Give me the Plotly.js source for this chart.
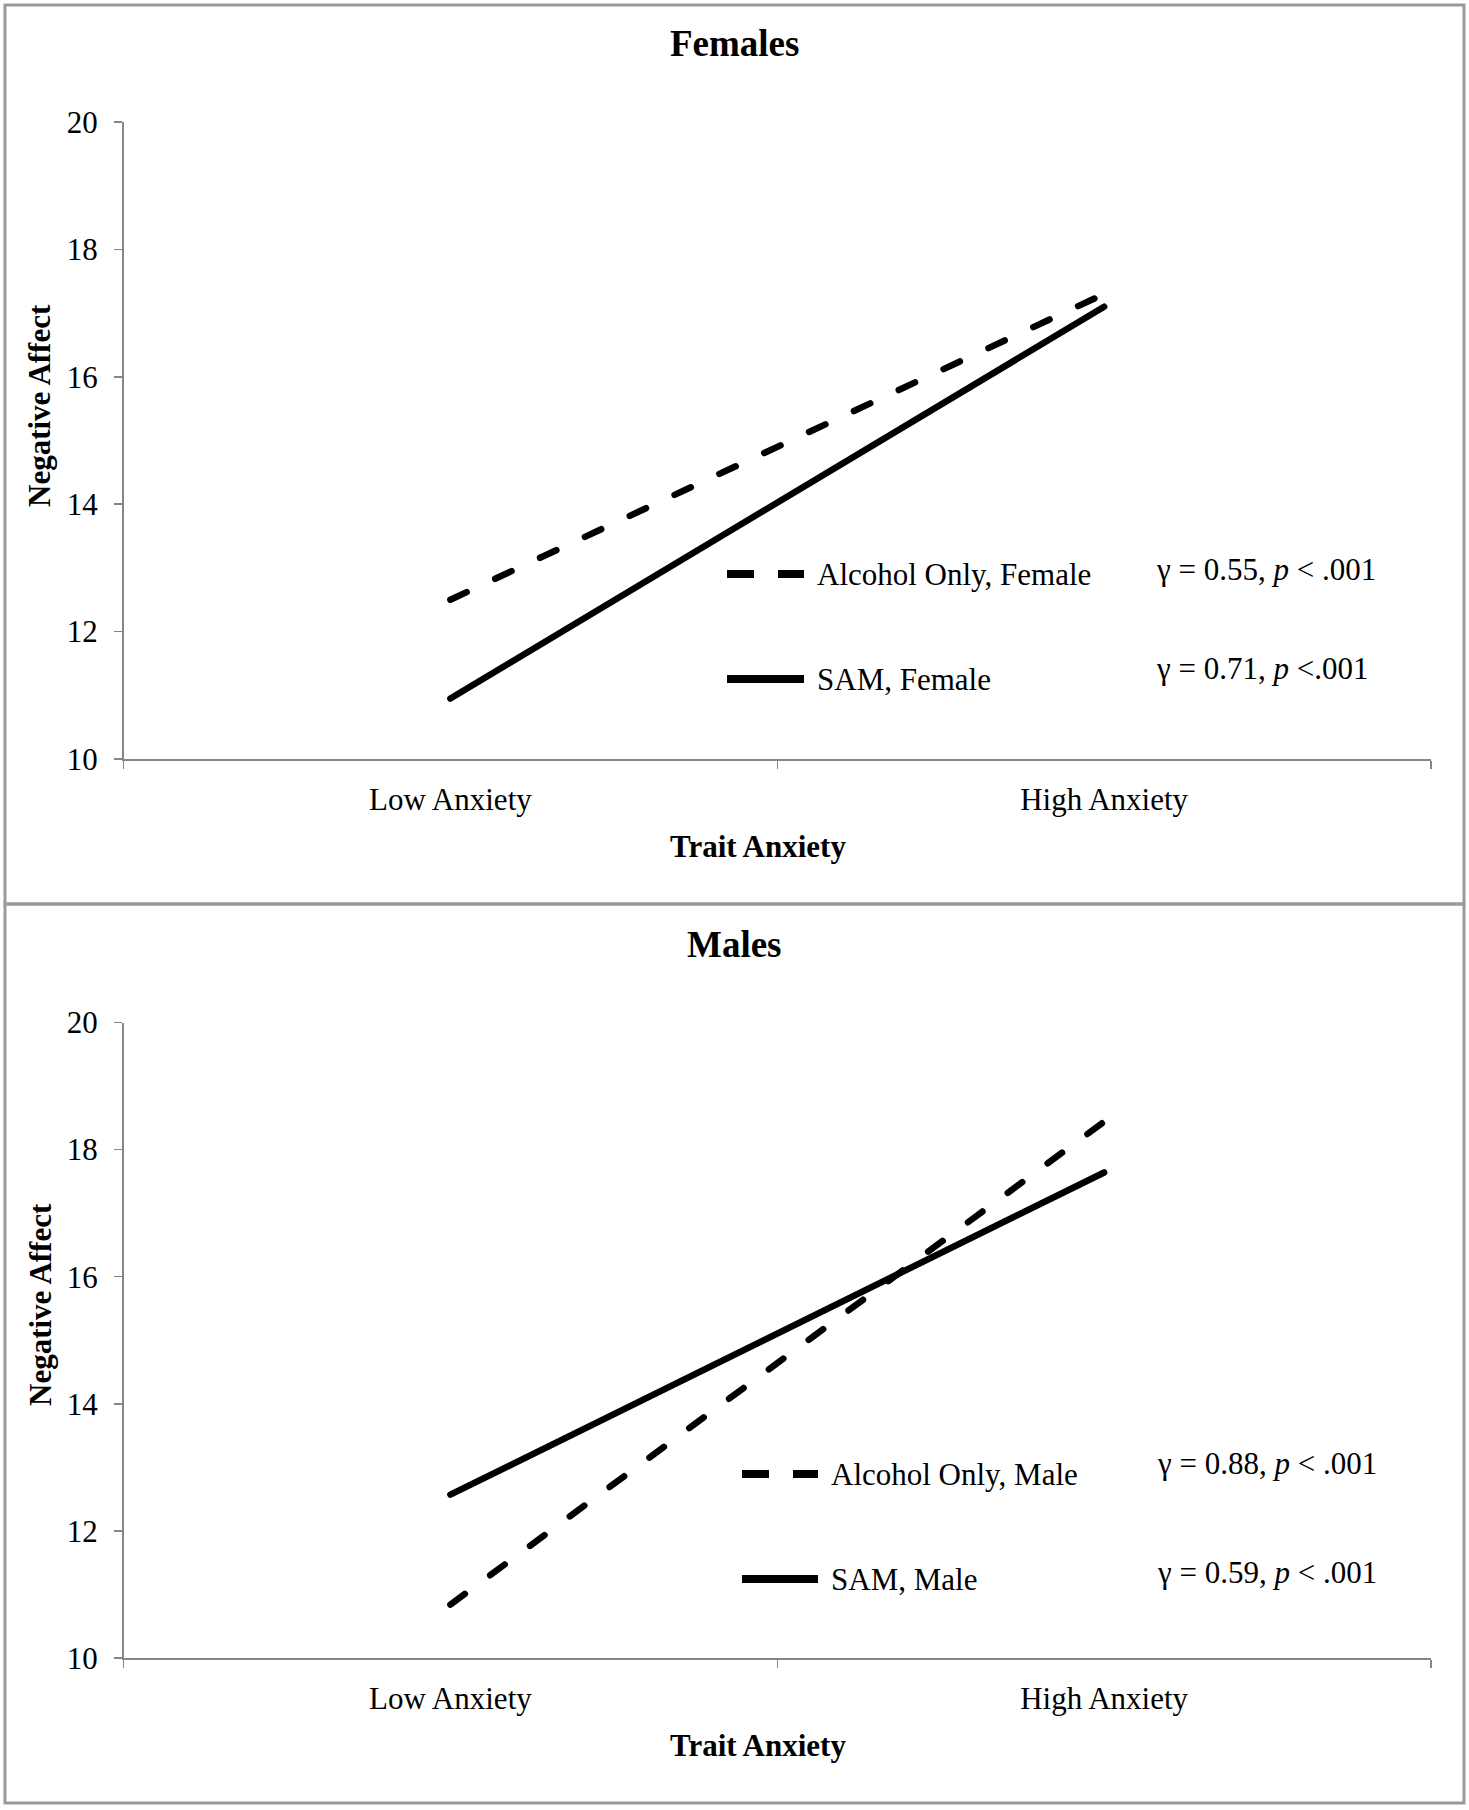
<!DOCTYPE html>
<html>
<head>
<meta charset="utf-8">
<script src="https://cdn.plot.ly/plotly-3.0.1.min.js"></script>
<style>
html,body{margin:0;padding:0;background:#fff;}
#chart{width:1469px;height:1810px;}
#chart path.js-line{stroke-linecap:round !important;}
</style>
</head>
<body>
<div id="chart"></div>
<script>
// ---- Data ----
const categories = ['Low Anxiety', 'High Anxiety'];
const femaleAlcoholOnly = [12.5, 17.3];
const femaleSAM = [10.95, 17.1];
const maleAlcoholOnly = [10.84, 18.44];
const maleSAM = [12.57, 17.64];
const yTicks = [10, 12, 14, 16, 18, 20];
const panelTitles = ['Females', 'Males'];
const legendLabels = ['Alcohol Only, Female', 'SAM, Female', 'Alcohol Only, Male', 'SAM, Male'];
const statLabels = ['γ = 0.55, <i>p</i> &lt; .001', 'γ = 0.71, <i>p</i> &lt;.001',
                    'γ = 0.88, <i>p</i> &lt; .001', 'γ = 0.59, <i>p</i> &lt; .001'];

// ---- Geometry helpers (pixel -> paper) ----
const W = 1469, H = 1810;
const px = x => x / W;
const py = y => 1 - y / H;

const FONT = 'Liberation Serif, Times New Roman, serif';
const AXIS_COLOR = '#868686';
const dashPattern = '18px,31.5px';
const LW = 6.5;

const traces = [
  {x: categories, y: femaleAlcoholOnly, xaxis: 'x', yaxis: 'y', mode: 'lines', name: legendLabels[0],
   line: {color: '#000', width: LW, dash: dashPattern}},
  {x: categories, y: femaleSAM, xaxis: 'x', yaxis: 'y', mode: 'lines', name: legendLabels[1],
   line: {color: '#000', width: LW}},
  {x: categories, y: maleAlcoholOnly, xaxis: 'x2', yaxis: 'y2', mode: 'lines', name: legendLabels[2],
   line: {color: '#000', width: LW, dash: dashPattern}},
  {x: categories, y: maleSAM, xaxis: 'x2', yaxis: 'y2', mode: 'lines', name: legendLabels[3],
   line: {color: '#000', width: LW}}
];

function xAxis(anchor) {
  return {
    anchor: anchor, type: 'category', range: [-0.5, 1.5],
    domain: [px(123.5), px(1431)],
    showline: true, linecolor: AXIS_COLOR, linewidth: 1.5,
    ticks: 'outside', tickson: 'boundaries', ticklen: 8, tickcolor: AXIS_COLOR, tickwidth: 1.5,
    showgrid: false, zeroline: false,
    tickfont: {family: FONT, size: 31, color: '#000'},
    ticklabelstandoff: 12,
    fixedrange: true
  };
}
function yAxis(anchor, top, bottom) {
  return {
    anchor: anchor, range: [10, 20], tickvals: yTicks,
    domain: [py(bottom), py(top)],
    showline: true, linecolor: AXIS_COLOR, linewidth: 1.5,
    ticks: 'outside', ticklen: 8, tickcolor: AXIS_COLOR, tickwidth: 1.5,
    showgrid: false, zeroline: false,
    tickfont: {family: FONT, size: 31, color: '#000'},
    ticklabelstandoff: 10,
    fixedrange: true
  };
}

const annotations = [];
const shapes = [];

// panel frames
shapes.push({type: 'rect', xref: 'paper', yref: 'paper', x0: px(5), x1: px(1464), y0: py(904), y1: py(5),
  line: {color: '#9a9a9a', width: 3}});
shapes.push({type: 'rect', xref: 'paper', yref: 'paper', x0: px(5), x1: px(1464), y0: py(1803), y1: py(904),
  line: {color: '#9a9a9a', width: 3}});

const panels = [
  {title: panelTitles[0], titleY: 44, yTitleY: 406, xTitleY: 846,
   legX0: 727, legX1: 804, legTextX: 815, rows: [574, 679], statX: 1154, statRows: [569, 669], idx: 0},
  {title: panelTitles[1], titleY: 944, yTitleY: 1305, xTitleY: 1745,
   legX0: 742, legX1: 818, legTextX: 829, rows: [1474, 1579], statX: 1155, statRows: [1463, 1572], idx: 2}
];

panels.forEach(p => {
  annotations.push({xref: 'paper', yref: 'paper', x: 0.5, y: py(p.titleY), xanchor: 'center', yanchor: 'middle',
    text: '<b>' + p.title + '</b>', showarrow: false, font: {family: FONT, size: 37, color: '#000'}});
  annotations.push({xref: 'paper', yref: 'paper', x: px(40), y: py(p.yTitleY), xanchor: 'center', yanchor: 'middle',
    text: '<b>Negative Affect</b>', textangle: -90, showarrow: false, font: {family: FONT, size: 31, color: '#000'}});
  annotations.push({xref: 'paper', yref: 'paper', x: px(758), y: py(p.xTitleY), xanchor: 'center', yanchor: 'middle',
    text: '<b>Trait Anxiety</b>', showarrow: false, font: {family: FONT, size: 31, color: '#000'}});
  // legend entries
  [0, 1].forEach(k => {
    const yy = p.rows[k];
    shapes.push({type: 'line', xref: 'paper', yref: 'paper', x0: px(p.legX0), x1: px(p.legX1), y0: py(yy), y1: py(yy),
      line: {color: '#000', width: 8, dash: k === 0 ? '27px,24px' : 'solid'}});
    annotations.push({xref: 'paper', yref: 'paper', x: px(p.legTextX), y: py(yy), xanchor: 'left', yanchor: 'middle',
      text: legendLabels[p.idx + k], showarrow: false, font: {family: FONT, size: 31, color: '#000'}});
    annotations.push({xref: 'paper', yref: 'paper', x: px(p.statX), y: py(p.statRows[k]), xanchor: 'left', yanchor: 'middle',
      text: statLabels[p.idx + k], showarrow: false, font: {family: FONT, size: 31, color: '#000'}});
  });
});

const layout = {
  width: W, height: H,
  margin: {l: 0, r: 0, t: 0, b: 0, pad: 0},
  paper_bgcolor: '#fff', plot_bgcolor: '#fff',
  showlegend: false,
  xaxis: xAxis('y'),
  yaxis: yAxis('x', 122, 759),
  xaxis2: xAxis('y2'),
  yaxis2: yAxis('x2', 1022.5, 1658),
  annotations: annotations,
  shapes: shapes
};

Plotly.newPlot('chart', traces, layout, {displayModeBar: false, staticPlot: true});
</script>
</body>
</html>
